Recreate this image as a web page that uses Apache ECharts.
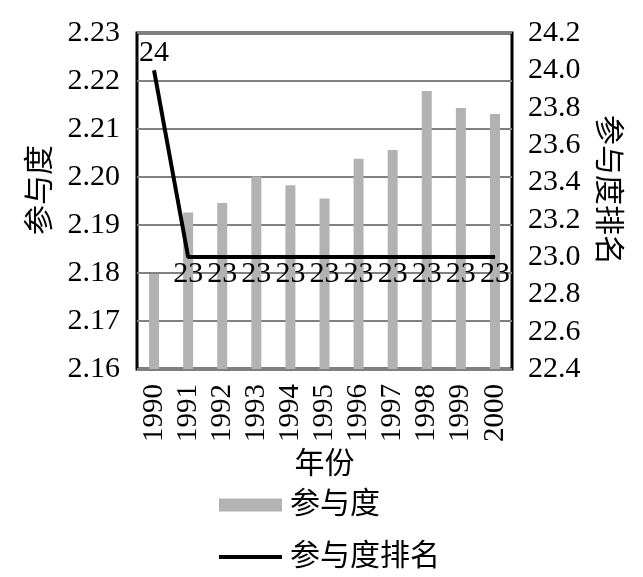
<!DOCTYPE html>
<html>
<head>
<meta charset="utf-8">
<script src="https://cdn.jsdelivr.net/npm/echarts@6/dist/echarts.min.js"></script>
<style>html,body{margin:0;padding:0;background:#fff;}#c{width:643px;height:577px;}</style>
</head>
<body>
<div id="c"></div>
<script>
var years = ['1990','1991','1992','1993','1994','1995','1996','1997','1998','1999','2000'];
var participation = [2.1798, 2.1926, 2.1946, 2.2001, 2.1983, 2.1955, 2.2038, 2.2056, 2.2179, 2.2144, 2.2131];
var rank = [24, 23, 23, 23, 23, 23, 23, 23, 23, 23, 23];
var leftTicks = {min: 2.16, max: 2.23, interval: 0.01};
var rightTicks = {min: 22.4, max: 24.2, interval: 0.2};

var FONT = "Liberation Serif, Times New Roman, Noto Sans CJK SC, serif";
var chart = echarts.init(document.getElementById('c'), null, {renderer: 'canvas'});

var rankData = rank.map(function (v, i) {
  return {
    value: v,
    label: {position: i === 0 ? 'top' : 'bottom'}
  };
});

chart.setOption({
  animation: false,
  backgroundColor: '#ffffff',
  textStyle: {fontFamily: FONT, color: '#000'},
  grid: {
    left: 137, right: 131, top: 33, bottom: 208,
    show: true, borderColor: '#000', borderWidth: 3, backgroundColor: 'transparent'
  },
  legend: {
    orient: 'vertical',
    left: 214,
    top: 485,
    itemWidth: 63,
    itemHeight: 13,
    itemGap: 22,
    textStyle: {fontFamily: FONT, fontSize: 30, color: '#000', padding: [0, 0, 0, 3]},
    data: [
      {name: '参与度', icon: 'rect'},
      {name: '参与度排名', icon: 'path://M0,0H63V4H0Z'}
    ]
  },
  xAxis: {
    type: 'category',
    data: years,
    boundaryGap: true,
    name: '年份',
    nameLocation: 'middle',
    nameGap: 80,
    nameTextStyle: {fontFamily: FONT, fontSize: 30, color: '#000'},
    axisLine: {show: false},
    axisTick: {show: false},
    axisLabel: {rotate: 90, interval: 0, fontFamily: FONT, fontSize: 29, color: '#000', margin: 15}
  },
  yAxis: [
    {
      type: 'value',
      min: leftTicks.min, max: leftTicks.max, interval: leftTicks.interval,
      name: '参与度',
      nameLocation: 'middle',
      nameGap: 76,
      nameRotate: 90,
      nameTextStyle: {fontFamily: FONT, fontSize: 30, color: '#000', padding: [0, 0, 0, 22]},
      axisLine: {show: false},
      axisTick: {show: false},
      axisLabel: {fontFamily: FONT, fontSize: 30, color: '#000', margin: 17,
        formatter: function (v) { return v.toFixed(2); }},
      splitLine: {show: true, lineStyle: {color: '#808080', width: 2}}
    },
    {
      type: 'value',
      min: rightTicks.min, max: rightTicks.max, interval: rightTicks.interval,
      name: '参与度排名',
      nameLocation: 'middle',
      nameGap: 63,
      nameRotate: -90,
      nameTextStyle: {fontFamily: FONT, fontSize: 30, color: '#000', padding: [0, 22, 0, 0]},
      axisLine: {show: false},
      axisTick: {show: false},
      axisLabel: {fontFamily: FONT, fontSize: 30, color: '#000', margin: 16,
        formatter: function (v) { return v.toFixed(1); }},
      splitLine: {show: false}
    }
  ],
  series: [
    {
      name: '参与度',
      type: 'bar',
      yAxisIndex: 0,
      data: participation,
      barWidth: 10,
      itemStyle: {color: '#b2b2b2'}
    },
    {
      name: '参与度排名',
      type: 'line',
      yAxisIndex: 1,
      data: rankData,
      symbol: 'circle',
      symbolSize: 1,
      showSymbol: true,
      lineStyle: {color: '#000', width: 4},
      itemStyle: {color: '#000'},
      label: {show: true, fontFamily: FONT, fontSize: 30, color: '#000', distance: 2},
      z: 5
    }
  ]
});
</script>
</body>
</html>
